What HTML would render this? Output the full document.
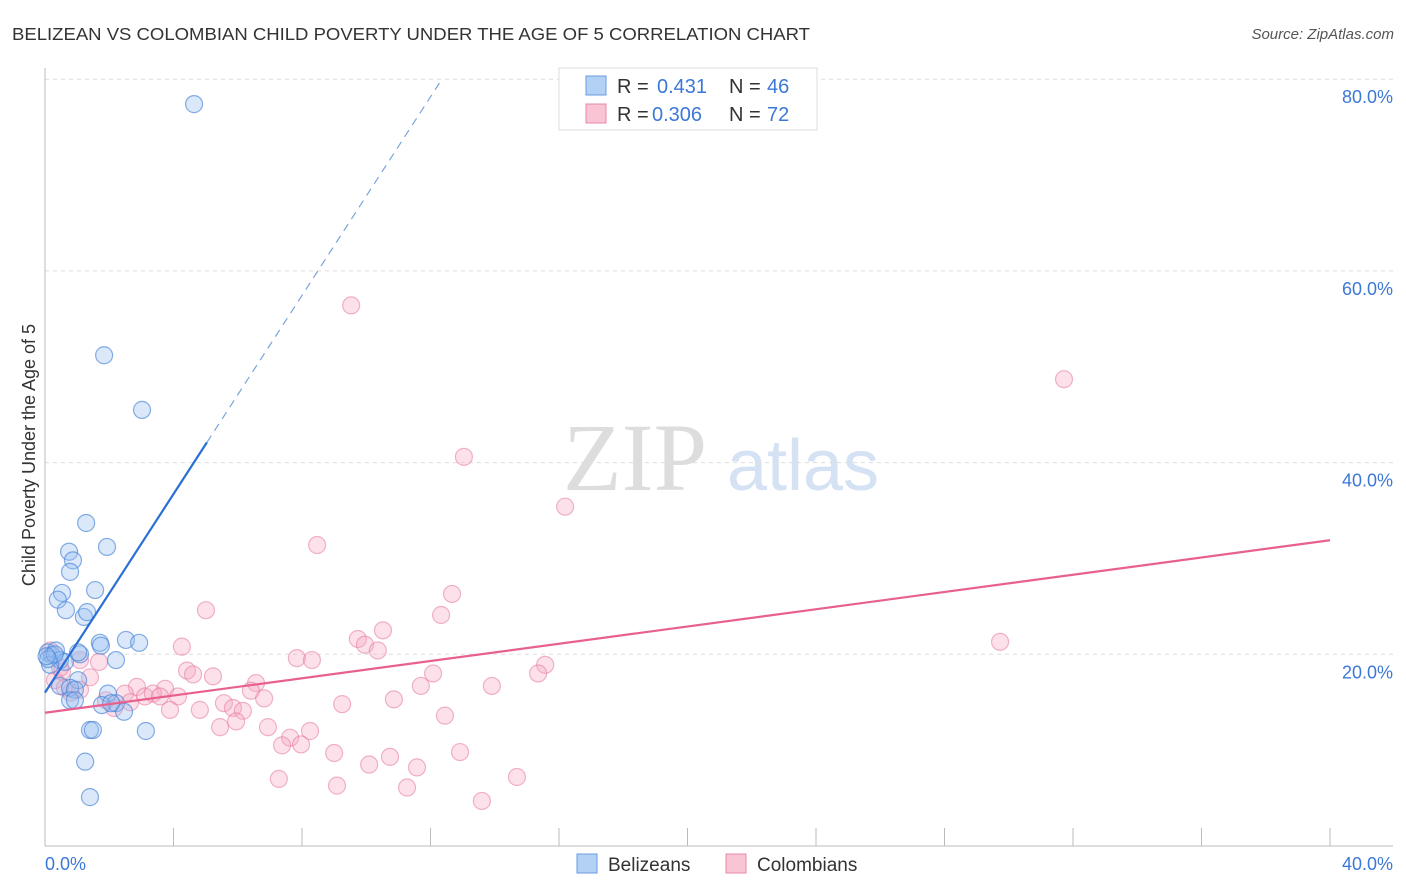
<!DOCTYPE html>
<html><head><meta charset="utf-8"><style>
body{margin:0;background:#fff;font-family:"Liberation Sans",sans-serif;}
svg{display:block}
</style></head><body>
<svg width="1406" height="892" viewBox="0 0 1406 892">
<text x="12" y="40" font-size="17.5" fill="#333" textLength="798" lengthAdjust="spacingAndGlyphs">BELIZEAN VS COLOMBIAN CHILD POVERTY UNDER THE AGE OF 5 CORRELATION CHART</text>
<text x="1394" y="39" font-size="15" fill="#555" font-style="italic" text-anchor="end">Source: ZipAtlas.com</text>
<g>
<text x="635" y="490" font-size="96" font-family="Liberation Serif,serif" fill="#ddd" text-anchor="middle">ZIP</text>
<text x="803" y="490" font-size="72" fill="#d4e2f4" text-anchor="middle">atlas</text>
</g>
<g id="grid"></g>
<g id="axes"></g>
<text x="35" y="455" font-size="18" fill="#333" text-anchor="middle" transform="rotate(-90 35 455)">Child Poverty Under the Age of 5</text>
<g id="marks"></g>
<g>
<rect x="559" y="68" width="258" height="62" fill="#fff" stroke="#ddd"/>
<rect x="586" y="76" width="20" height="19" fill="#b3d0f5" stroke="#6a9be0"/>
<rect x="586" y="104" width="20" height="19" fill="#f9c4d4" stroke="#e88aa8"/>
<text x="617" y="93" font-size="20" fill="#333">R =</text>
<text x="657" y="93" font-size="20" fill="#3c78d8">0.431</text>
<text x="729" y="93" font-size="20" fill="#333">N =</text>
<text x="767" y="93" font-size="20" fill="#3c78d8">46</text>
<text x="617" y="121" font-size="20" fill="#333">R =</text>
<text x="652" y="121" font-size="20" fill="#3c78d8">0.306</text>
<text x="729" y="121" font-size="20" fill="#333">N =</text>
<text x="767" y="121" font-size="20" fill="#3c78d8">72</text>
</g>
<g>
<rect x="577" y="854" width="20" height="19" fill="#b3d0f5" stroke="#6a9be0"/>
<text x="608" y="871" font-size="19" fill="#333">Belizeans</text>
<rect x="726" y="854" width="20" height="19" fill="#f9c4d4" stroke="#e88aa8"/>
<text x="757" y="871" font-size="19" fill="#333">Colombians</text>
</g>
</svg>
<script>
const yTicks=[20,40,60,80];
const yTickLabels=["20.0%","40.0%","60.0%","80.0%"];
const xTickLabels=["0.0%","40.0%"];
const blueX=[4.64,1.84,3.02,1.28,0.75,0.87,0.78,1.93,1.56,0.53,0.40,0.65,1.21,1.31,2.52,2.93,1.71,1.74,1.09,2.21,0.09,0.22,0.34,0.47,0.62,0.16,1.03,0.47,0.78,0.93,1.96,0.78,0.93,2.21,1.77,2.46,1.40,1.49,3.14,1.25,1.40,0.1,0.3,0.05,2.06,1.03];
const blueY=[77.4,51.2,45.5,33.7,30.7,29.8,28.6,31.2,26.7,26.4,25.7,24.6,23.9,24.4,21.5,21.2,21.2,20.9,20.0,19.4,20.2,19.9,20.4,19.4,19.2,18.9,17.3,16.7,16.5,16.3,15.9,15.2,15.2,14.9,14.7,14.0,12.1,12.1,12.0,8.8,5.1,19.5,20.0,19.8,14.9,20.2];
const pinkX=[9.53,31.72,13.04,16.19,8.47,5.01,12.67,12.33,29.73,9.74,9.96,10.52,10.36,4.26,7.84,8.31,15.57,15.35,12.08,4.42,4.61,5.23,6.57,11.70,13.91,1.68,3.74,2.86,6.41,2.49,3.11,3.36,3.58,4.14,6.82,10.86,5.57,2.65,2.15,3.89,4.82,5.85,6.16,9.25,12.45,5.95,5.45,6.94,8.25,7.63,7.38,7.97,9.00,10.74,12.92,10.09,11.58,14.69,7.28,9.09,11.27,13.60,0.31,0.62,1.09,1.40,0.53,0.16,1.09,0.47,1.9,0.8];
const pinkY=[56.4,48.7,40.6,35.4,31.4,24.6,26.3,24.1,21.3,21.6,21.0,22.5,20.4,20.8,19.6,19.4,18.9,18.0,18.0,18.3,17.9,17.7,17.0,16.7,16.7,19.2,16.4,16.6,16.2,15.9,15.6,15.9,15.6,15.6,15.4,15.3,14.9,15.0,14.4,14.2,14.2,14.4,14.1,14.8,13.6,13.0,12.4,12.4,12.0,11.3,10.5,10.6,9.7,9.3,9.8,8.5,8.2,7.2,7.0,6.3,6.1,4.7,17.3,16.5,16.3,17.6,18.2,20.4,19.4,18.6,15.2,16.0];
const blueTrend=[16.0,5.18];
const pinkTrend=[13.9,0.45];
const NS="http://www.w3.org/2000/svg";
const X=v=>45+v*32.125, Y=v=>846-v*9.585;
function mk(p,t,a){const e=document.createElementNS(NS,t);for(const k in a)e.setAttribute(k,a[k]);p.appendChild(e);return e;}
const grid=document.getElementById('grid'),axes=document.getElementById('axes'),marks=document.getElementById('marks');
yTicks.forEach((t,i)=>{
 const l=mk(grid,'line',{x1:45,x2:1393,y1:Y(t),y2:Y(t),stroke:'#ddd','stroke-dasharray':'4 4'});
 
 
 const tx=mk(grid,'text',{x:1393,y:Y(t)+24,'font-size':18,fill:'#3c78d8','text-anchor':'end'});
 tx.textContent=yTickLabels[i];
 
 
});
let a=mk(axes,'line',{x1:45,x2:45,y1:68,y2:846,stroke:'#bbb'});


a=mk(axes,'line',{x1:45,x2:1393,y1:846,y2:846,stroke:'#bbb'});


for(let i=1;i<=10;i++){const t=mk(axes,'line',{x1:X(i*4),x2:X(i*4),y1:828,y2:846,stroke:'#bbb'});
 
 }
let xl=mk(axes,'text',{x:45,y:870,'font-size':18,fill:'#3c78d8'});xl.textContent=xTickLabels[0];


xl=mk(axes,'text',{x:1393,y:870,'font-size':18,fill:'#3c78d8','text-anchor':'end'});xl.textContent=xTickLabels[1];


pinkX.forEach((x,i)=>{const c=mk(marks,'circle',{cx:X(x),cy:Y(pinkY[i]),r:8.5,fill:'rgba(246,170,195,0.35)',stroke:'rgba(230,120,160,0.55)','stroke-width':1.2});
 
 });
blueX.forEach((x,i)=>{const c=mk(marks,'circle',{cx:X(x),cy:Y(blueY[i]),r:8.5,fill:'rgba(150,190,240,0.35)',stroke:'rgba(70,130,215,0.65)','stroke-width':1.2});
 
 });
const bx1=5.04,bx2=(80-blueTrend[0])/blueTrend[1];
let l=mk(marks,'line',{x1:X(0),y1:Y(blueTrend[0]),x2:X(bx1),y2:Y(blueTrend[0]+blueTrend[1]*bx1),stroke:'#2a6fd6','stroke-width':2.2});


l=mk(marks,'line',{x1:X(bx1),y1:Y(blueTrend[0]+blueTrend[1]*bx1),x2:X(bx2),y2:Y(blueTrend[0]+blueTrend[1]*bx2),stroke:'#7aa3dd','stroke-width':1.2,'stroke-dasharray':'8 6'});


l=mk(marks,'line',{x1:X(0),y1:Y(pinkTrend[0]),x2:X(40),y2:Y(pinkTrend[0]+pinkTrend[1]*40),stroke:'#e8608e','stroke-width':2.2});


</script>
</body></html>
